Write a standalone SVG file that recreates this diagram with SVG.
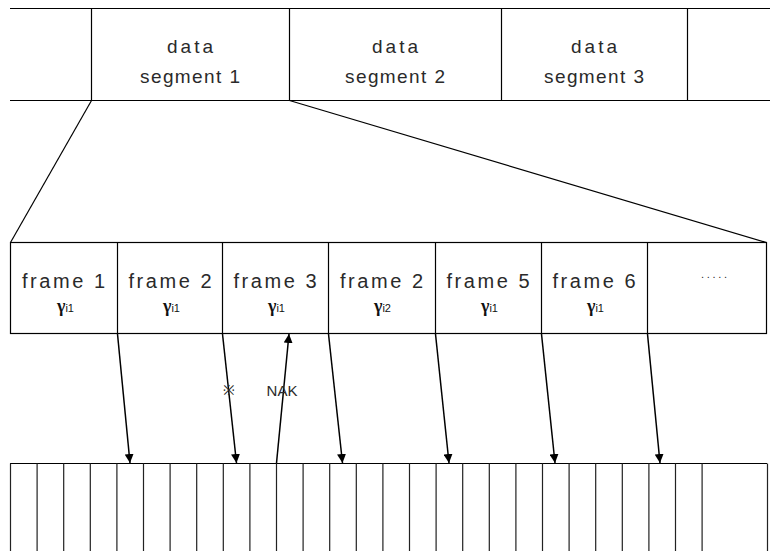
<svg xmlns="http://www.w3.org/2000/svg" width="770" height="551" viewBox="0 0 770 551">
<defs>
<style>
.ln{stroke:#000;stroke-width:1.2;fill:none}
.cell{stroke:#222;stroke-width:1.2;fill:none}
.t{font-family:"Liberation Sans",Arial,sans-serif;fill:#2a2a2a;text-anchor:middle}
.seg{font-size:19px}
.fr{font-size:20px}
.g{font-family:"Liberation Serif","Times New Roman",serif;font-size:18px;font-weight:bold;fill:#111}
.sub{font-family:"Liberation Sans",Arial,sans-serif;font-size:11px;fill:#111}
.arr{stroke:#000;stroke-width:1.5;fill:none;marker-end:url(#ah)}
</style>
<marker id="ah" viewBox="0 0 10 10" refX="10" refY="5" markerWidth="9" markerHeight="9" markerUnits="userSpaceOnUse" orient="auto">
<path d="M0,0 L10,5 L0,10 z" fill="#000"/>
</marker>
</defs>
<rect width="770" height="551" fill="#fff"/>

<g id="segment-band">
<line class="ln" x1="10" y1="8.5" x2="770" y2="8.5"/>
<line class="ln" x1="10" y1="100.5" x2="770" y2="100.5"/>
</g>
<g id="segment1">
<line class="ln" x1="91.5" y1="8.5" x2="91.5" y2="100.5"/>
<text class="t seg" x="190" y="53" textLength="46">data</text>
<text class="t seg" x="190" y="83" textLength="100">segment 1</text>
</g>
<g id="segment2">
<line class="ln" x1="289.5" y1="8.5" x2="289.5" y2="100.5"/>
<text class="t seg" x="395" y="53" textLength="46">data</text>
<text class="t seg" x="395" y="83" textLength="100">segment 2</text>
</g>
<g id="segment3">
<line class="ln" x1="501.5" y1="8.5" x2="501.5" y2="100.5"/>
<line class="ln" x1="687.5" y1="8.5" x2="687.5" y2="100.5"/>
<text class="t seg" x="594" y="53" textLength="46">data</text>
<text class="t seg" x="594" y="83" textLength="100">segment 3</text>
</g>

<g id="zoom-lines">
<line class="ln" x1="91.5" y1="100.5" x2="10.5" y2="242.5"/>
<line class="ln" x1="289.5" y1="100.5" x2="766.5" y2="242.5"/>
</g>

<g id="frame-row">
<rect class="ln" x="10.5" y="242.5" width="756" height="91"/>
</g>
<g id="frame1">
<text class="t fr" x="63.5" y="288" textLength="83">frame 1</text>
<text x="57" y="312"><tspan class="g">γ</tspan><tspan class="sub">i1</tspan></text>
</g>
<g id="frame2">
<line class="ln" x1="117.5" y1="242.5" x2="117.5" y2="333.5"/>
<text class="t fr" x="170" y="288" textLength="83">frame 2</text>
<text x="163" y="312"><tspan class="g">γ</tspan><tspan class="sub">i1</tspan></text>
</g>
<g id="frame3">
<line class="ln" x1="222.5" y1="242.5" x2="222.5" y2="333.5"/>
<text class="t fr" x="275" y="288" textLength="83">frame 3</text>
<text x="268" y="312"><tspan class="g">γ</tspan><tspan class="sub">i1</tspan></text>
</g>
<g id="frame2b">
<line class="ln" x1="328.5" y1="242.5" x2="328.5" y2="333.5"/>
<text class="t fr" x="381.5" y="288" textLength="83">frame 2</text>
<text x="374" y="312"><tspan class="g">γ</tspan><tspan class="sub">i2</tspan></text>
</g>
<g id="frame5">
<line class="ln" x1="435.5" y1="242.5" x2="435.5" y2="333.5"/>
<text class="t fr" x="488" y="288" textLength="83">frame 5</text>
<text x="481" y="312"><tspan class="g">γ</tspan><tspan class="sub">i1</tspan></text>
</g>
<g id="frame6">
<line class="ln" x1="541.5" y1="242.5" x2="541.5" y2="333.5"/>
<text class="t fr" x="594" y="288" textLength="83">frame 6</text>
<text x="587" y="312"><tspan class="g">γ</tspan><tspan class="sub">i1</tspan></text>
</g>
<g id="frame-more">
<line class="ln" x1="647.5" y1="242.5" x2="647.5" y2="333.5"/>
<text class="t" x="714" y="278" font-size="11" fill="#666" textLength="26">.....</text>
</g>

<g id="slots">
<line class="ln" x1="10" y1="463.5" x2="767" y2="463.5"/>
<path class="cell" d="M10.5,463.5V551 M37.1,463.5V551 M63.7,463.5V551 M90.3,463.5V551 M116.9,463.5V551 M143.5,463.5V551 M170.1,463.5V551 M196.7,463.5V551 M223.3,463.5V551 M249.9,463.5V551 M276.5,463.5V551 M303.1,463.5V551 M329.7,463.5V551 M356.3,463.5V551 M382.9,463.5V551 M409.5,463.5V551 M436.1,463.5V551 M462.7,463.5V551 M489.3,463.5V551 M515.9,463.5V551 M542.5,463.5V551 M569.1,463.5V551 M595.7,463.5V551 M622.3,463.5V551 M648.9,463.5V551 M675.5,463.5V551 M702.1,463.5V551 M767.5,463.5V551"/>
</g>

<g id="connectors">
<line class="arr" x1="117.5" y1="334" x2="130" y2="463"/>
<line class="arr" x1="222.5" y1="334" x2="236.5" y2="463"/>
<line class="arr" x1="276.5" y1="463" x2="289" y2="334"/>
<line class="arr" x1="328.5" y1="334" x2="342.5" y2="463"/>
<line class="arr" x1="435.5" y1="334" x2="449" y2="463"/>
<line class="arr" x1="541.5" y1="334" x2="555" y2="463"/>
<line class="arr" x1="647.5" y1="334" x2="660" y2="463"/>
<text class="t" x="229" y="395" font-size="14">※</text>
<text class="t" x="282" y="396" font-size="15" fill="#333">NAK</text>
</g>
</svg>
